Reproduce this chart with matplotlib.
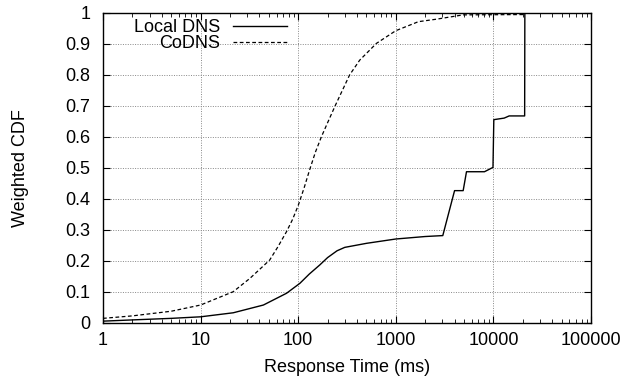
import matplotlib
matplotlib.use('Agg')
import matplotlib.pyplot as plt
from matplotlib.ticker import LogLocator, NullFormatter, FixedLocator

plt.rcParams['font.family'] = ['Liberation Sans', 'DejaVu Sans']

# response time (ms) and weighted CDF
local_x = [1, 2, 5, 10, 21.6, 44, 76, 104, 130, 166, 200, 250, 300, 500, 1000,
           2000, 3030, 4000, 4900, 5300, 8100, 9900, 10100, 12900, 14500, 20900,
           21000]
local_y = [0.005, 0.009, 0.014, 0.019, 0.032, 0.057, 0.095, 0.127, 0.157, 0.186,
           0.21, 0.232, 0.243, 0.256, 0.270, 0.278, 0.281, 0.426, 0.426, 0.487,
           0.487, 0.501, 0.655, 0.66, 0.667, 0.667, 1.0]

codns_x = [1, 2, 5, 10, 21.6, 32, 51, 62, 76, 87.5, 100, 115, 130, 150, 173, 200,
           241, 336, 427, 633, 1000, 1500, 1700, 2600, 4900, 20000, 21000]
codns_y = [0.014, 0.022, 0.037, 0.057, 0.100, 0.143, 0.202, 0.245, 0.294, 0.333,
           0.378, 0.435, 0.49, 0.55, 0.600, 0.645, 0.702, 0.799, 0.847, 0.901,
           0.942, 0.964, 0.971, 0.979, 0.993, 0.994, 1.0]

fig = plt.figure(figsize=(6.41, 3.81), dpi=100)
ax = fig.add_axes([103/641, 1 - 322.7/381, (591 - 103)/641, (322.7 - 12.7)/381])

ax.plot(local_x, local_y, color='black', lw=1.0, label='Local DNS')
ax.plot(codns_x, codns_y, color='black', lw=0.9, ls=(0, (3, 2)), label='CoDNS')

ax.set_xscale('log')
ax.set_xlim(1, 100000)
ax.set_ylim(0, 1)
ax.xaxis.set_major_locator(FixedLocator([1, 10, 100, 1000, 10000, 100000]))
ax.set_xticklabels(['1', '10', '100', '1000', '10000', '100000'])
ax.xaxis.set_minor_locator(LogLocator(base=10, subs=range(2, 10)))
ax.xaxis.set_minor_formatter(NullFormatter())
ax.set_yticks([i / 10 for i in range(11)])
ax.set_yticklabels(['0', '0.1', '0.2', '0.3', '0.4', '0.5', '0.6', '0.7', '0.8', '0.9', '1'])

ax.tick_params(which='both', direction='in', top=True, right=True, labelsize=13)
ax.tick_params(axis='y', pad=9)
ax.tick_params(axis='x', pad=7)
ax.tick_params(which='major', length=5)
ax.tick_params(which='minor', length=3)
ax.grid(True, which='major', color='#888888', ls=(0, (1, 1.5)), lw=0.7)

for s in ax.spines.values():
    s.set_linewidth(1.0)

ax.set_xlabel('Response Time (ms)', fontsize=13, labelpad=7)
ax.set_ylabel('Weighted CDF', fontsize=13, labelpad=26)

ax.legend(loc='upper right', frameon=False, markerfirst=False, fontsize=13,
          handlelength=3.0, handletextpad=0.7, labelspacing=-0.05,
          borderpad=0, borderaxespad=0, bbox_to_anchor=(0.377, 0.98))

fig.savefig('out.png', dpi=100)
